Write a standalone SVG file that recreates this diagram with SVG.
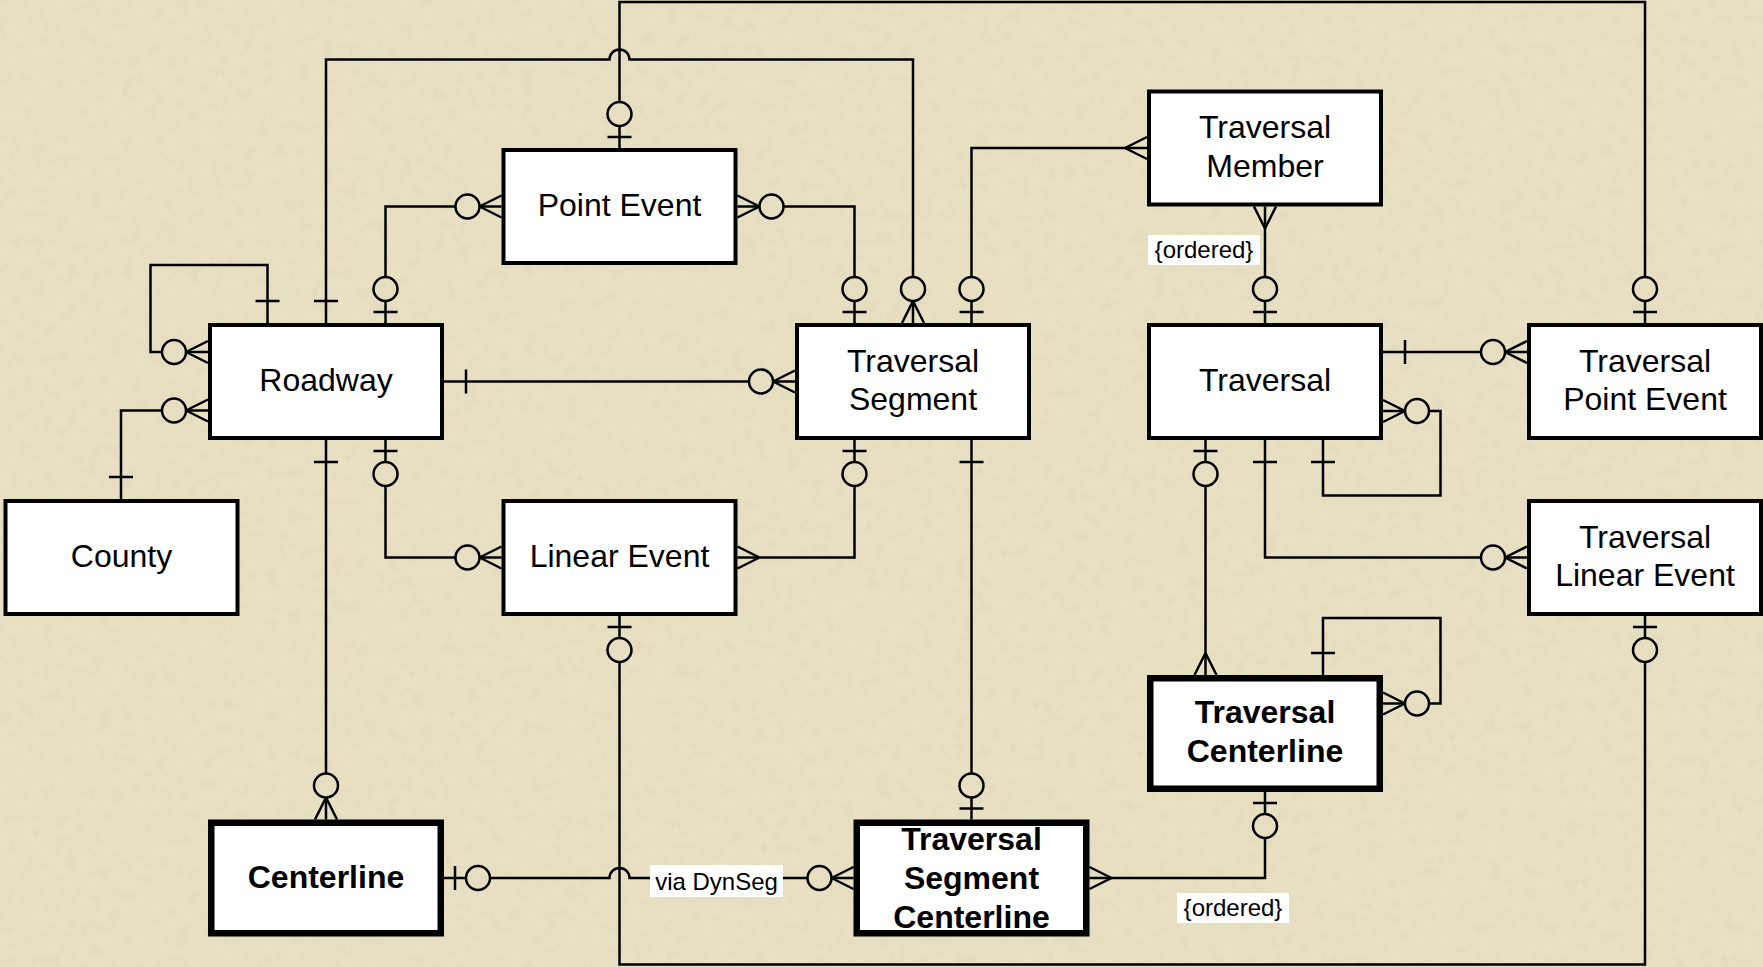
<svg xmlns="http://www.w3.org/2000/svg" width="1763" height="967" viewBox="0 0 1763 967">
  <defs>
    <style>
      .box { fill: #ffffff; stroke: #000000; stroke-width: 4; }
      .thick { fill: #ffffff; stroke: #000000; stroke-width: 6.5; }
      .t { font-family: "Liberation Sans", Arial, sans-serif; font-size: 32px; text-anchor: middle; fill: #000000; }
      .b { font-weight: bold; }
      .lbl { font-family: "Liberation Sans", Arial, sans-serif; font-size: 24px; text-anchor: middle; fill: #000000; }
      .lblbg { fill: #ffffff; stroke: none; }
      .c { fill: none; stroke: #000000; stroke-width: 2.5; }
      .mk { fill: none; stroke: #000000; stroke-width: 2.5; }
      .mkc { fill: #E5DEC0; stroke: #000000; stroke-width: 2.5; }
    </style>
    <filter id="grain" x="0" y="0" width="100%" height="100%">
      <feTurbulence type="fractalNoise" baseFrequency="0.09" numOctaves="3" seed="7" result="n"/>
      <feColorMatrix in="n" type="matrix" values="0 0 0 0 0.55  0 0 0 0 0.50  0 0 0 0 0.33  0.9 0 0 0 -0.38"/>
    </filter>
    <marker id="m-one" viewBox="-50 -20 60 40" markerWidth="60" markerHeight="40" refX="0" refY="0" markerUnits="userSpaceOnUse" orient="auto-start-reverse">
      <path class="mk" d="M-22,-12V12"/>
    </marker>
    <marker id="m-zone" viewBox="-50 -20 60 40" markerWidth="60" markerHeight="40" refX="0" refY="0" markerUnits="userSpaceOnUse" orient="auto-start-reverse">
      <path class="mk" d="M-11,-12V12"/>
      <circle class="mkc" cx="-34" cy="0" r="12"/>
    </marker>
    <marker id="m-zmany" viewBox="-50 -20 60 40" markerWidth="60" markerHeight="40" refX="0" refY="0" markerUnits="userSpaceOnUse" orient="auto-start-reverse">
      <path class="mk" d="M-22,0L0,-11M-22,0L0,11"/>
      <circle class="mkc" cx="-34" cy="0" r="12"/>
    </marker>
    <marker id="m-many" viewBox="-50 -20 60 40" markerWidth="60" markerHeight="40" refX="0" refY="0" markerUnits="userSpaceOnUse" orient="auto-start-reverse">
      <path class="mk" d="M-22,0L0,-11M-22,0L0,11"/>
    </marker>
  </defs>

  <rect x="0" y="0" width="1763" height="967" fill="#E7E0C3"/>
  <rect x="0" y="0" width="1763" height="967" filter="url(#grain)" opacity="0.35"/>

  <g id="connectors">
    <path class="c" d="M267.5,323V265H150.5V352H208" marker-start="url(#m-one)" marker-end="url(#m-zmany)"/>
    <path class="c" d="M121,499V410.5H208" marker-start="url(#m-one)" marker-end="url(#m-zmany)"/>
    <path class="c" d="M444,381.5H795" marker-start="url(#m-one)" marker-end="url(#m-zmany)"/>
    <path class="c" d="M326,323V59.5H609.5A10,10 0 0 1 629.5,59.5H913V323" marker-start="url(#m-one)" marker-end="url(#m-zmany)"/>
    <path class="c" d="M619.5,148V2H1645V323" marker-start="url(#m-zone)" marker-end="url(#m-zone)"/>
    <path class="c" d="M385.5,323V206.5H501.5" marker-start="url(#m-zone)" marker-end="url(#m-zmany)"/>
    <path class="c" d="M737.5,206.5H854.5V323" marker-start="url(#m-zmany)" marker-end="url(#m-zone)"/>
    <path class="c" d="M971.5,323V148H1147" marker-start="url(#m-zone)" marker-end="url(#m-many)"/>
    <path class="c" d="M1265,206.5V323" marker-start="url(#m-many)" marker-end="url(#m-zone)"/>
    <path class="c" d="M1383,352H1527" marker-start="url(#m-one)" marker-end="url(#m-zmany)"/>
    <path class="c" d="M1323,440V495.5H1440.5V411H1383" marker-start="url(#m-one)" marker-end="url(#m-zmany)"/>
    <path class="c" d="M326,440V819.5" marker-start="url(#m-one)" marker-end="url(#m-zmany)"/>
    <path class="c" d="M385.5,440V557.5H501.5" marker-start="url(#m-zone)" marker-end="url(#m-zmany)"/>
    <path class="c" d="M737.5,557.5H854.5V440" marker-start="url(#m-many)" marker-end="url(#m-zone)"/>
    <path class="c" d="M971.5,440V819.5" marker-start="url(#m-one)" marker-end="url(#m-zone)"/>
    <path class="c" d="M619.5,616V964.5H1645V616" marker-start="url(#m-zone)" marker-end="url(#m-zone)"/>
    <path class="c" d="M444,878H609.5A10,10 0 0 1 629.5,878H853.5" marker-start="url(#m-zone)" marker-end="url(#m-zmany)"/>
    <path class="c" d="M1089.5,878H1265V792" marker-start="url(#m-many)" marker-end="url(#m-zone)"/>
    <path class="c" d="M1205.5,440V675" marker-start="url(#m-zone)" marker-end="url(#m-many)"/>
    <path class="c" d="M1265,440V557.5H1527" marker-start="url(#m-one)" marker-end="url(#m-zmany)"/>
    <path class="c" d="M1323,675V618H1440.5V703.5H1383" marker-start="url(#m-one)" marker-end="url(#m-zmany)"/>

    <rect class="lblbg" x="650" y="865" width="133" height="32"/>
    <text class="lbl" x="716.5" y="890">via DynSeg</text>
    <rect class="lblbg" x="1148" y="235" width="112" height="30"/>
    <text class="lbl" x="1204" y="258">{ordered}</text>
    <rect class="lblbg" x="1177" y="893" width="112" height="30"/>
    <text class="lbl" x="1233" y="916">{ordered}</text>
  </g>

  <g id="roadway">
    <rect class="box" x="210" y="325" width="232" height="113"/>
    <text class="t" x="326" y="391">Roadway</text>
  </g>
  <g id="point-event">
    <rect class="box" x="503.5" y="150" width="232" height="113"/>
    <text class="t" x="619.5" y="216">Point Event</text>
  </g>
  <g id="traversal-segment">
    <rect class="box" x="797" y="325" width="232" height="113"/>
    <text class="t" x="913" y="371.5">Traversal</text>
    <text class="t" x="913" y="410">Segment</text>
  </g>
  <g id="traversal-member">
    <rect class="box" x="1149" y="91.5" width="232" height="113"/>
    <text class="t" x="1265" y="138">Traversal</text>
    <text class="t" x="1265" y="176.5">Member</text>
  </g>
  <g id="traversal">
    <rect class="box" x="1149" y="325" width="232" height="113"/>
    <text class="t" x="1265" y="391">Traversal</text>
  </g>
  <g id="traversal-point-event">
    <rect class="box" x="1529" y="325" width="232" height="113"/>
    <text class="t" x="1645" y="371.5">Traversal</text>
    <text class="t" x="1645" y="410">Point Event</text>
  </g>
  <g id="county">
    <rect class="box" x="5.5" y="501" width="232" height="113"/>
    <text class="t" x="121.5" y="567">County</text>
  </g>
  <g id="linear-event">
    <rect class="box" x="503.5" y="501" width="232" height="113"/>
    <text class="t" x="619.5" y="567">Linear Event</text>
  </g>
  <g id="traversal-linear-event">
    <rect class="box" x="1529" y="501" width="232" height="113"/>
    <text class="t" x="1645" y="547.5">Traversal</text>
    <text class="t" x="1645" y="586">Linear Event</text>
  </g>
  <g id="traversal-centerline">
    <rect class="thick" x="1150.25" y="678.25" width="229.5" height="110.5"/>
    <text class="t b" x="1265" y="723">Traversal</text>
    <text class="t b" x="1265" y="761.5">Centerline</text>
  </g>
  <g id="centerline">
    <rect class="thick" x="211.25" y="822.75" width="229.5" height="110.5"/>
    <text class="t b" x="326" y="887.5">Centerline</text>
  </g>
  <g id="traversal-segment-centerline">
    <rect class="thick" x="856.75" y="822.75" width="229.5" height="110.5"/>
    <text class="t b" x="971.5" y="850">Traversal</text>
    <text class="t b" x="971.5" y="889">Segment</text>
    <text class="t b" x="971.5" y="927.5">Centerline</text>
  </g>
</svg>
